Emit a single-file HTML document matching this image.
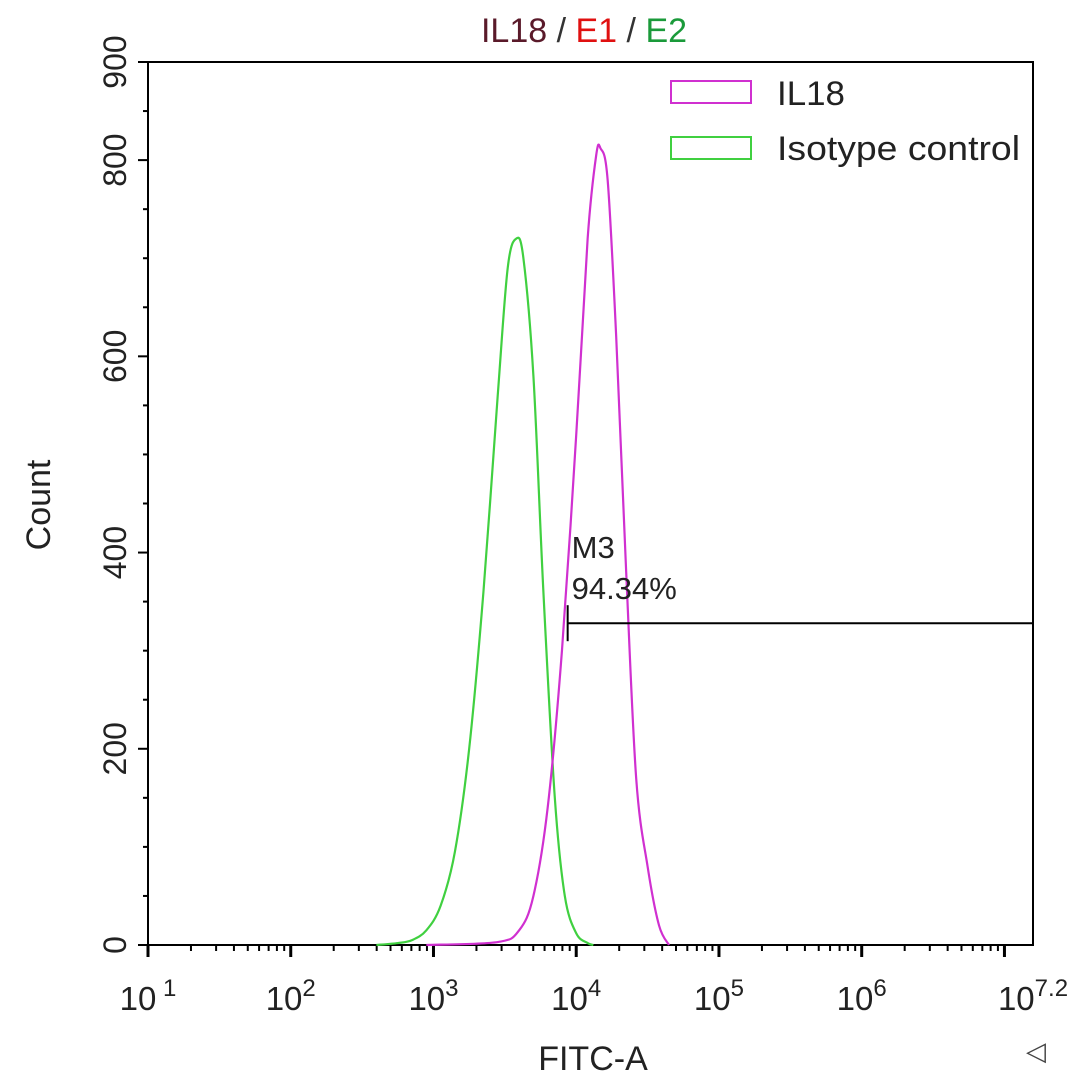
<!DOCTYPE html>
<html><head><meta charset="utf-8"><style>
body{margin:0;background:#fff;}
svg{display:block;font-family:"Liberation Sans",sans-serif;}
</style></head><body>
<svg id="chart" width="1080" height="1090" viewBox="0 0 1080 1090">
<text x="584" y="42" font-size="34" text-anchor="middle" fill="#333"><tspan fill="#5a1a2a">IL18</tspan><tspan fill="#333"> / </tspan><tspan fill="#e01010">E1</tspan><tspan fill="#333"> / </tspan><tspan fill="#1a9a3a">E2</tspan></text>
<g id="axes"></g>
<g id="series"></g>
<g>
<rect x="671" y="81" width="80" height="22" fill="none" stroke="#d030d0" stroke-width="2"/>
<text x="777" y="105" font-size="34" fill="#222" textLength="68" lengthAdjust="spacingAndGlyphs">IL18</text>
<rect x="671" y="137" width="80" height="22" fill="none" stroke="#40d040" stroke-width="2"/>
<text x="777" y="160" font-size="34" fill="#222" textLength="243" lengthAdjust="spacingAndGlyphs">Isotype control</text>
</g>
<text transform="translate(50,505) rotate(-90)" font-size="34" text-anchor="middle" fill="#222">Count</text>
<text x="593" y="1070" font-size="34" text-anchor="middle" fill="#222">FITC-A</text>
<text x="1026" y="1060" font-size="26" fill="#444">◁</text>
</svg>
<script>
const yTicks=[0,200,400,600,800,900];
const xTickExps=[1,2,3,4,5,6,7.2];
const greenX=[2.6,2.75,2.85,2.95,3.05,3.15,3.25,3.35,3.45,3.52,3.58,3.63,3.7,3.77,3.85,3.92,4.0,4.08,4.12];
const greenY=[0,2,5,15,40,95,200,360,560,690,720,700,580,360,150,50,12,2,0];
const magX=[2.95,3.45,3.6,3.7,3.8,3.9,4.0,4.08,4.14,4.17,4.22,4.28,4.35,4.42,4.5,4.58,4.65];
const magY=[0,3,15,50,140,300,520,720,805,812,780,620,380,170,80,20,0];
const markerStart=3.94, markerEnd=7.2, markerCount=328;
const markerLabel="M3", markerPct="94.34%";

const X0=148,X1=1033,Y0=945,Y1=62;
const xs=v=>X0+(v-1)/(7.2-1)*(X1-X0);
const ys=v=>Y0-v/900*(Y0-Y1);
const NS="http://www.w3.org/2000/svg";
function mk(t,a,p){const e=document.createElementNS(NS,t);for(const k in a)e.setAttribute(k,a[k]);p.appendChild(e);return e;}
const ax=document.getElementById('axes'), se=document.getElementById('series');
let e=mk('path',{d:`M${X0},${Y1} H${X1} V${Y0} H${X0} Z`,fill:'none',stroke:'#000','stroke-width':2},ax);

for(let v=0;v<=900;v+=50){
 const major=yTicks.includes(v);
 e=mk('line',{x1:X0-(major?10:5),x2:X0,y1:ys(v),y2:ys(v),stroke:'#000','stroke-width':2},ax);
 
}
yTicks.forEach(v=>{
 e=mk('text',{transform:`translate(${X0-22},${ys(v)}) rotate(-90)`,'font-size':32,'text-anchor':'middle',fill:'#222'},ax);
 e.textContent=v;
 
});
for(let d=1;d<=7;d++){
 e=mk('line',{x1:xs(d),x2:xs(d),y1:Y0,y2:Y0+12,stroke:'#000','stroke-width':3},ax);
 
 for(let m=2;m<=9;m++){const lv=d+Math.log10(m);if(lv>7.2)break;
  e=mk('line',{x1:xs(lv),x2:xs(lv),y1:Y0,y2:Y0+6,stroke:'#000','stroke-width':2},ax);
  }
}
xTickExps.forEach(p=>{
 const t=mk('text',{x:xs(p),y:1010,'font-size':33,'text-anchor':'middle',fill:'#222'},ax);
 t.innerHTML=`10<tspan dy="-14" font-size="24">${p===1?' 1':p}</tspan>`;
 
});
function smooth(X,Y){const P=X.map((x,i)=>[xs(x),ys(Y[i])]);let d=`M${P[0][0]},${P[0][1]}`;
 for(let i=0;i<P.length-1;i++){const p0=P[i-1]||P[i],p1=P[i],p2=P[i+1],p3=P[i+2]||P[i+1];
  d+=` C${p1[0]+(p2[0]-p0[0])/6},${p1[1]+(p2[1]-p0[1])/6} ${p2[0]-(p3[0]-p1[0])/6},${p2[1]-(p3[1]-p1[1])/6} ${p2[0]},${p2[1]}`;}
 return d;}
e=mk('path',{d:smooth(greenX,greenY),fill:'none',stroke:'#40d040','stroke-width':2.2},se);

e=mk('path',{d:smooth(magX,magY),fill:'none',stroke:'#d030d0','stroke-width':2.2},se);

e=mk('line',{x1:xs(markerStart),x2:xs(markerEnd),y1:ys(markerCount),y2:ys(markerCount),stroke:'#000','stroke-width':2},se);

e=mk('line',{x1:xs(markerStart),x2:xs(markerStart),y1:ys(markerCount)-18,y2:ys(markerCount)+18,stroke:'#000','stroke-width':2},se);

e=mk('text',{x:xs(markerStart)+4,y:ys(markerCount)-65,'font-size':31,fill:'#222'},se);e.textContent=markerLabel;

e=mk('text',{x:xs(markerStart)+4,y:ys(markerCount)-24,'font-size':31,fill:'#222'},se);e.textContent=markerPct;

</script>
</body></html>
